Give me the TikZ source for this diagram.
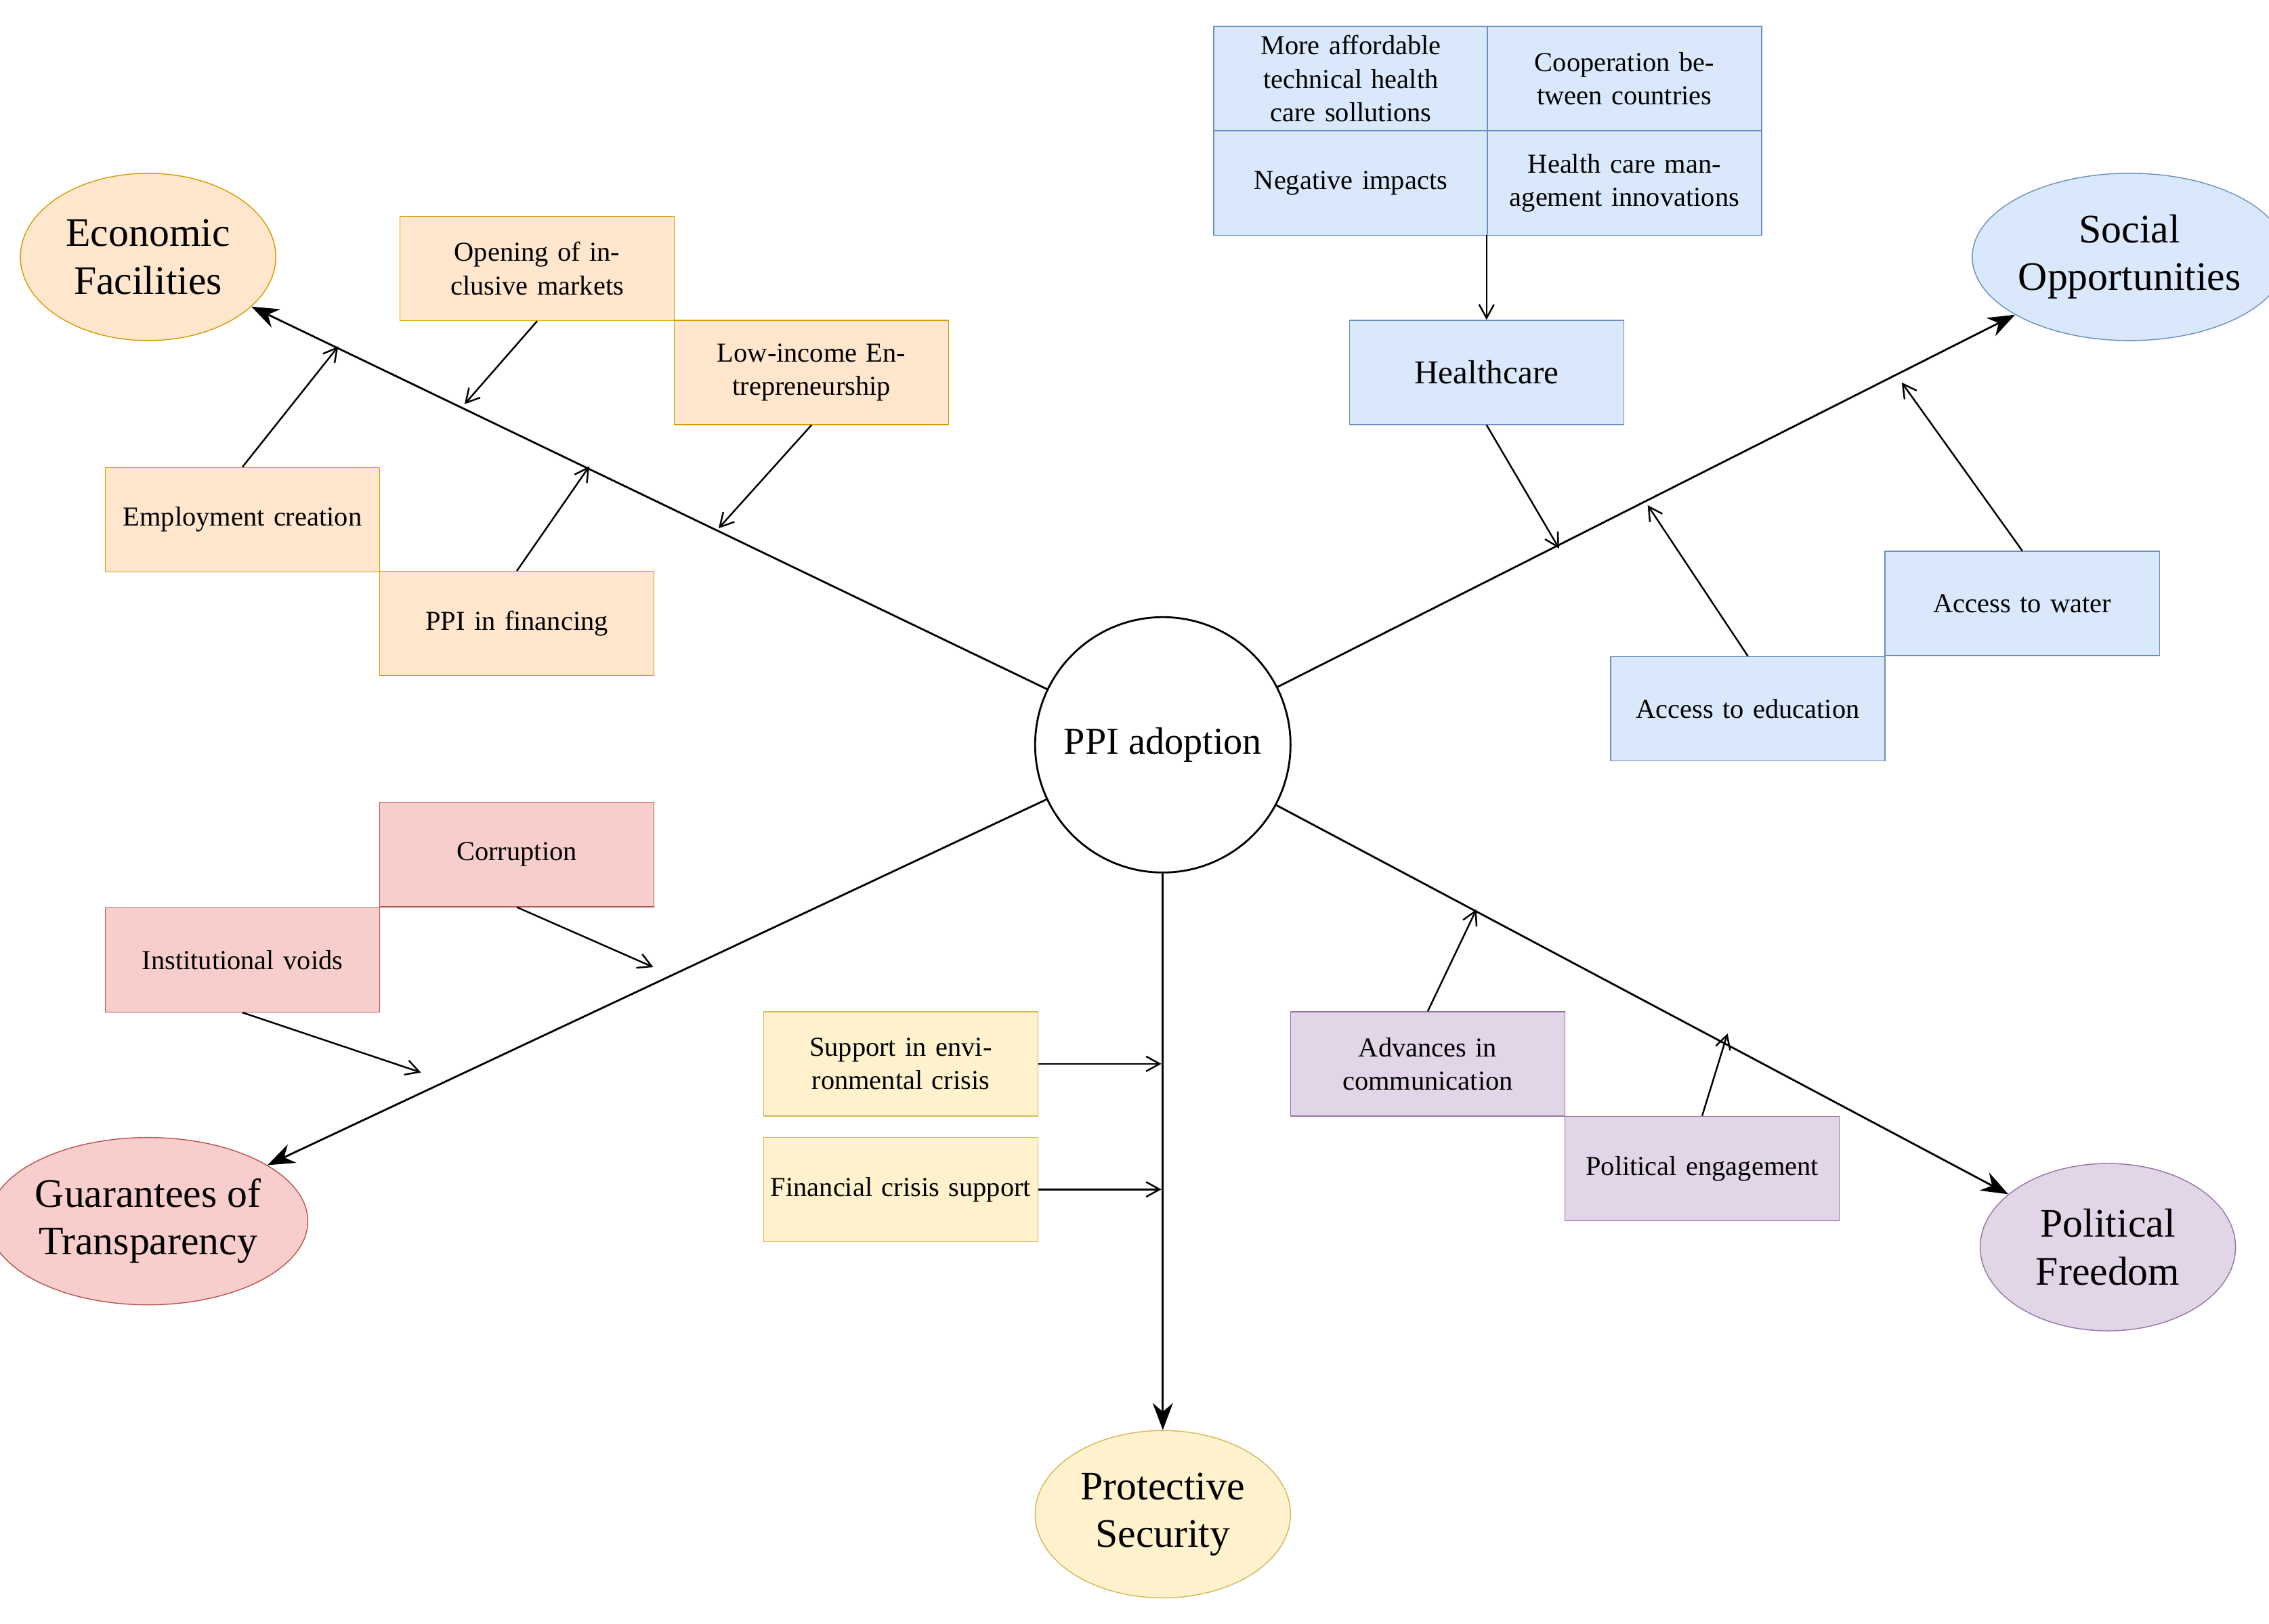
\documentclass[tikz,border=0pt]{standalone}
\usepackage{fontspec}
\setmainfont{Liberation Serif}
\usetikzlibrary{shapes.geometric,arrows.meta}
\definecolor{oF}{HTML}{FFE6CC}\definecolor{oD}{HTML}{D79B00}
\definecolor{bF}{HTML}{DAE8FC}\definecolor{bD}{HTML}{6C8EBF}
\definecolor{rF}{HTML}{F8CECC}\definecolor{rD}{HTML}{B85450}
\definecolor{yF}{HTML}{FFF2CC}\definecolor{yD}{HTML}{D6B656}
\definecolor{pF}{HTML}{E1D5E7}\definecolor{pD}{HTML}{9673A6}
\tikzset{
 box/.style={draw, minimum width=40.5mm, minimum height=15.4mm, align=center, inner sep=1pt, text width=39mm, font=\fontsize{11.5}{14}\selectfont},
 ell/.style={ellipse, draw, minimum width=37.7mm, minimum height=24.7mm, align=center, inner sep=0pt, font=\fontsize{17}{20}\selectfont},
 big/.style={-{Stealth[length=4mm,width=3mm]}, line width=0.8pt},
 sm/.style={-{Straight Barb[length=2mm,width=2.2mm]}, line width=0.7pt},
 o/.style={box, fill=oF, draw=oD},
 b/.style={box, fill=bF, draw=bD},
 r/.style={box, fill=rF, draw=rD},
 yy/.style={box, fill=yF, draw=yD},
 p/.style={box, fill=pF, draw=pD}
}
\begin{document}
\begin{tikzpicture}[x=0.2143mm,y=-0.2131mm]
\useasboundingbox (0,0) rectangle (1563,1125);
\node[circle, draw, minimum size=37.7mm, font=\fontsize{16}{18}\selectfont, line width=0.8pt] (c) at (801,516) {PPI adoption};
\node[ell, fill=oF, draw=oD] (ef) at (102,178) {Economic\\Facilities};
\node[ell, fill=bF, draw=bD] (so) at (1467,178) {Social\\Opportunities};
\node[ell, fill=rF, draw=rD] (gt) at (102,846) {Guarantees of\\Transparency};
\node[ell, fill=pF, draw=pD] (pf) at (1452,864) {Political\\Freedom};
\node[ell, fill=yF, draw=yD] (ps) at (801,1049) {Protective\\Security};
\draw[big] (c) -- (ef);
\draw[big] (c) -- (so);
\draw[big] (c) -- (gt);
\draw[big] (c) -- (pf);
\draw[big] (c) -- (ps);
% orange
\node[o] (om) at (370,186) {Opening of inclusive markets};
\node[o] (li) at (559,258) {Low-income Entrepreneurship};
\node[o] (ec) at (167,360) {Employment creation};
\node[o] (pi) at (356,432) {PPI in financing};
\coordinate (e1) at (320,280);\coordinate (e2) at (495,366);
\coordinate (e3) at (233,240);\coordinate (e4) at (406,323);
\draw[sm] (om.south) -- (e1);
\draw[sm] (li.south) -- (e2);
\draw[sm] (ec.north) -- (e3);
\draw[sm] (pi.north) -- (e4);
% blue
\node[b] (g1) at (930.5,54.5) {More affordable technical health care sollutions};
\node[b] (g2) at (1119,54.5) {Cooperation between countries};
\node[b] (g3) at (930.5,127) {Negative impacts};
\node[b] (g4) at (1119,127) {Health care management innovations};
\node[b] (hc) at (1024,258) {\fontsize{14}{16}\selectfont Healthcare};
\node[b] (aw) at (1393,418) {Access to water};
\node[b] (ae) at (1204,491) {Access to education};
\coordinate (gb) at (1024,163);
\coordinate (s1) at (1074,380);\coordinate (s2) at (1135,350);\coordinate (s3) at (1310,265);
\draw[sm] (gb) -- (hc.north);
\draw[sm] (hc.south) -- (s1);
\draw[sm] (ae.north) -- (s2);
\draw[sm] (aw.north) -- (s3);
% red
\node[r] (co) at (356,592) {Corruption};
\node[r] (iv) at (167,665) {Institutional voids};
\coordinate (t1) at (450,670);\coordinate (t2) at (290,743);
\draw[sm] (co.south) -- (t1);
\draw[sm] (iv.south) -- (t2);
% yellow
\node[yy] (se) at (620.5,737) {Support in environmental crisis};
\node[yy] (fc) at (620.5,824) {Financial crisis support};
\coordinate (u1) at (800,737);\coordinate (u2) at (800,824);
\draw[sm] (se.east) -- (u1);
\draw[sm] (fc.east) -- (u2);
% purple
\node[p] (ac) at (983.5,737) {Advances in communication};
\node[p] (pe) at (1172.5,809.5) {Political engagement};
\coordinate (v1) at (1017,630);\coordinate (v2) at (1190,716);
\draw[sm] (ac.north) -- (v1);
\draw[sm] (pe.north) -- (v2);
\end{tikzpicture}
\end{document}
